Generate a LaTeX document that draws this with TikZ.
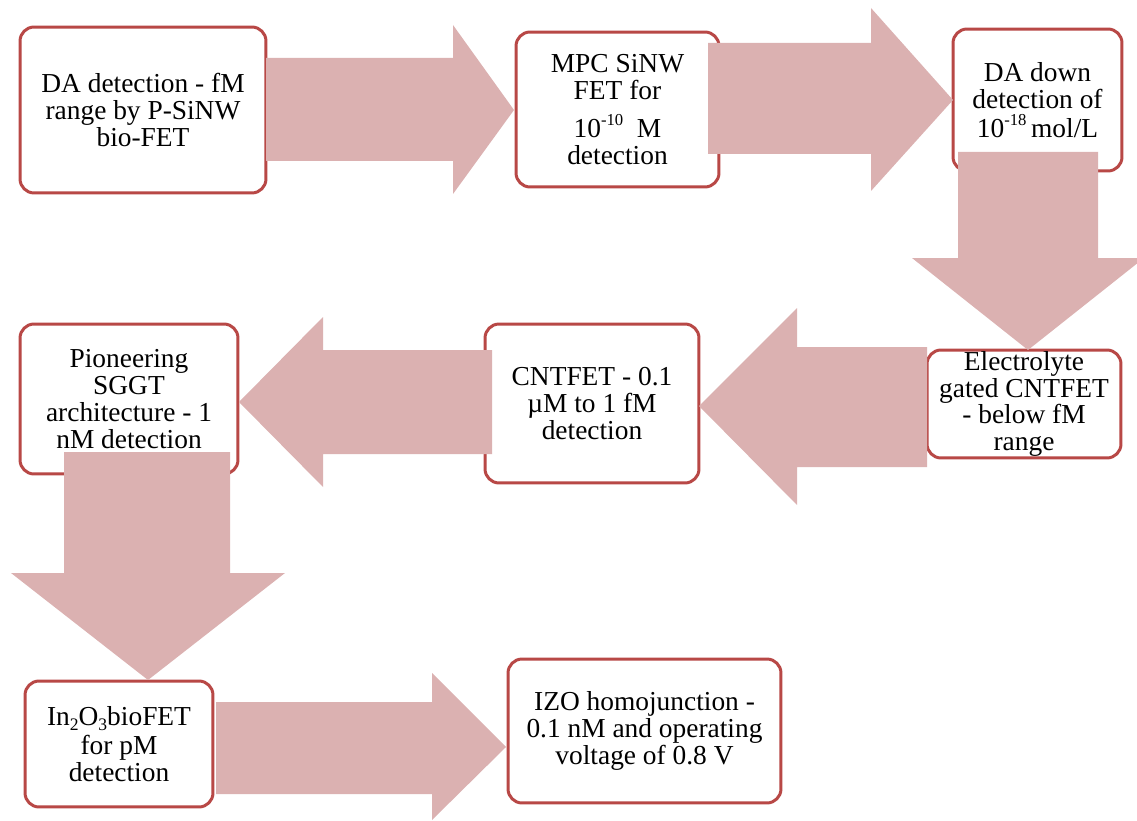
\documentclass[tikz,border=0pt]{standalone}
\usepackage{fontspec}
\setmainfont{Liberation Serif}
\definecolor{boxred}{RGB}{184,72,70}
\definecolor{arrowpink}{RGB}{219,177,177}
\newcommand{\supx}[1]{\raisebox{0.9ex}{\fontsize{9.5}{9.5}\selectfont #1}}
\newcommand{\subx}[1]{\raisebox{-0.35ex}{\fontsize{10}{10}\selectfont #1}}
\begin{document}
\begin{tikzpicture}[x=0.02cm,y=-0.02cm,
  stage/.style={draw=boxred, line width=1.7pt, rounded corners=8pt, fill=white,
    align=center, inner sep=0pt, font=\fontsize{15.6}{15.3}\selectfont},
  blockarrow/.style={fill=arrowpink, draw=none}]
\useasboundingbox (0,0) rectangle (1137,821);
% stages
\node[stage, minimum width=4.92cm, minimum height=3.32cm] (b1) at (143,110)
  {DA detection - fM\\range by P-SiNW\\bio-FET};
\node[stage, minimum width=4.06cm, minimum height=3.10cm] (b2) at (617.5,109.5)
  {MPC SiNW\\FET for\\[6pt]10\supx{-10}\ \ M\\detection};
\node[stage, minimum width=3.38cm, minimum height=2.84cm] (b3) at (1037.5,100)
  {DA down\\detection of\\[1pt]10\supx{-18}\,mol/L};
\node[stage, minimum width=3.88cm, minimum height=2.16cm] (b4) at (1024,404)
  {Electrolyte\\gated CNTFET\\- below fM\\range};
\node[stage, minimum width=4.28cm, minimum height=3.18cm] (b5) at (592,403.5)
  {CNTFET - 0.1\\µM to 1 fM\\detection};
\node[stage, minimum width=4.36cm, minimum height=3.00cm] (b6) at (129,399)
  {Pioneering\\SGGT\\architecture - 1\\nM detection};
\node[stage, minimum width=3.76cm, minimum height=2.52cm] (b7) at (119,744)
  {In\subx{2}O\subx{3}bioFET\\[1pt]for pM\\detection};
\node[stage, minimum width=5.46cm, minimum height=2.88cm] (b8) at (644.5,731)
  {IZO homojunction -\\0.1 nM and operating\\voltage of 0.8 V};
% block arrows
\fill[blockarrow] (266,58) -- (453,58) -- (453,25) -- (514,110) -- (453,194) -- (453,161) -- (266,161) -- cycle;
\fill[blockarrow] (708,43) -- (871,43) -- (871,8) -- (953,100) -- (871,191) -- (871,154) -- (708,154) -- cycle;
\fill[blockarrow] (958,152) -- (1098,152) -- (1098,258) -- (1144,258) -- (1028,350) -- (912,258) -- (958,258) -- cycle;
\fill[blockarrow] (927,347) -- (797,347) -- (797,308) -- (699,406) -- (797,505) -- (797,467) -- (927,467) -- cycle;
\fill[blockarrow] (492,350) -- (323,350) -- (323,317) -- (239,402) -- (323,487) -- (323,454) -- (492,454) -- cycle;
\fill[blockarrow] (64,452) -- (230,452) -- (230,573) -- (285,573) -- (148,680) -- (11,573) -- (64,573) -- cycle;
\fill[blockarrow] (216,702) -- (432,702) -- (432,673) -- (506,747) -- (432,820) -- (432,794) -- (216,794) -- cycle;
\end{tikzpicture}
\end{document}
